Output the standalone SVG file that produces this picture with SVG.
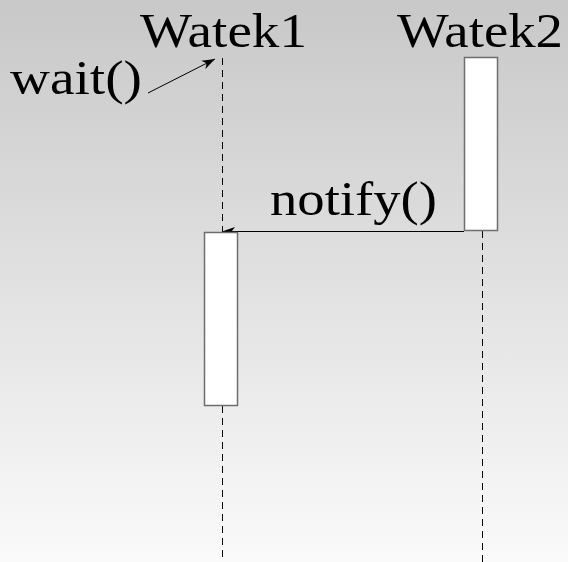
<svg xmlns="http://www.w3.org/2000/svg" width="568" height="562" viewBox="0 0 568 562">
<defs>
<linearGradient id="bg" x1="0" y1="0" x2="0" y2="1">
<stop offset="0" stop-color="#c8c8c8"/>
<stop offset="1" stop-color="#fafafa"/>
</linearGradient>
<marker id="ah" markerWidth="14" markerHeight="10" refX="13" refY="5" orient="auto" markerUnits="userSpaceOnUse">
<path d="M0,0.5 L13,5 L0,9.5 L3.5,5 Z" fill="#000"/>
</marker>
<style>
.t{font-family:"Liberation Serif","DejaVu Serif",serif;fill:#000}
.life{stroke:#000;stroke-width:1;stroke-dasharray:7 5;fill:none}
.act{fill:#fff;stroke:#6e6e6e;stroke-width:1.5}
.msg{stroke:#000;stroke-width:1;fill:none}
</style>
</defs>
<rect width="568" height="562" fill="url(#bg)"/>
<g id="connectors">
<line class="life" x1="222.5" y1="58" x2="222.5" y2="562"/>
<line class="life" x1="482.5" y1="231" x2="482.5" y2="562"/>
<line class="msg" x1="464" y1="231.5" x2="222" y2="231.5" marker-end="url(#ah)"/>
<line class="msg" x1="148" y1="93" x2="215" y2="59" marker-end="url(#ah)"/>
</g>
<g id="watek1">
<text class="t" x="140" y="47" font-size="49" textLength="167" lengthAdjust="spacingAndGlyphs">Watek1</text>
<rect class="act" x="204.5" y="232.5" width="33" height="173"/>
</g>
<g id="watek2">
<text class="t" x="397" y="47" font-size="49" textLength="166" lengthAdjust="spacingAndGlyphs">Watek2</text>
<rect class="act" x="464.5" y="57.5" width="33" height="173"/>
</g>
<g id="label-wait">
<text class="t" x="10" y="94" font-size="49" textLength="132" lengthAdjust="spacingAndGlyphs">wait()</text>
</g>
<g id="label-notify">
<text class="t" x="270" y="215" font-size="49" textLength="167" lengthAdjust="spacingAndGlyphs">notify()</text>
</g>
</svg>
